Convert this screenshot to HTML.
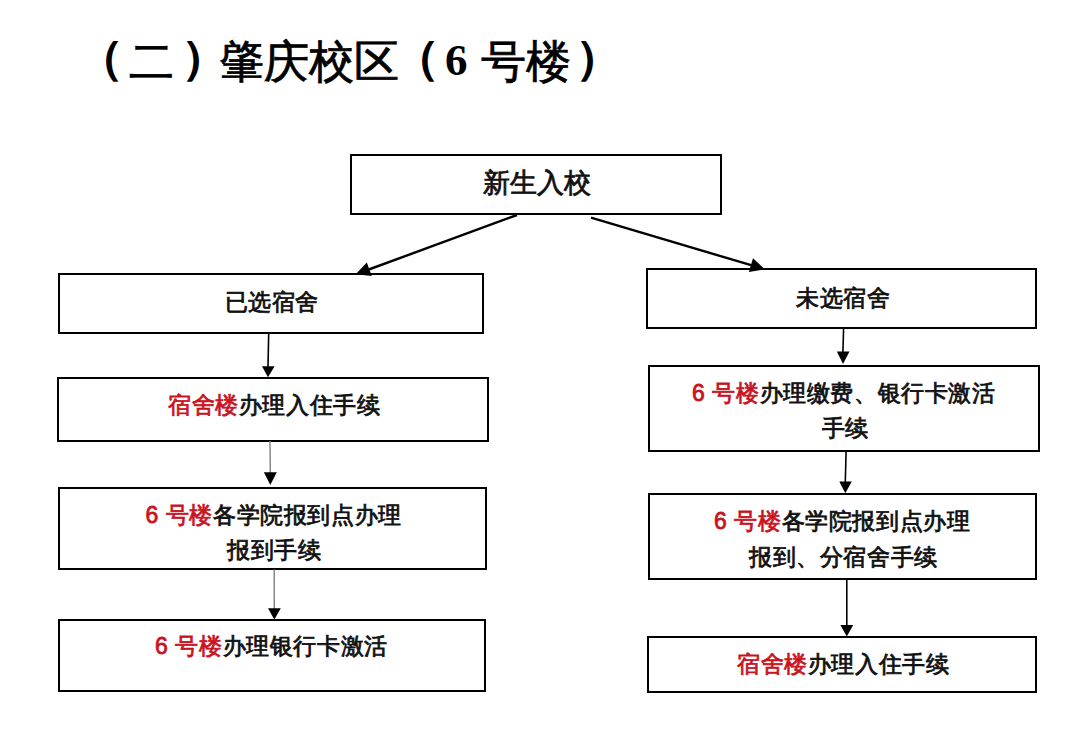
<!DOCTYPE html>
<html><head><meta charset="utf-8">
<style>
html,body{margin:0;padding:0;background:#fff;}
body{width:1080px;height:742px;position:relative;overflow:hidden;font-family:"Liberation Sans",sans-serif;}
svg{position:absolute;left:0;top:0;}
.t{position:absolute;white-space:nowrap;color:#111;font-weight:normal;-webkit-text-stroke-width:0.8px;line-height:1;}
.r{color:#c9141f;}
.title{position:absolute;left:84px;top:40px;font-family:"Liberation Serif",serif;font-size:45px;font-weight:normal;-webkit-text-stroke-width:0.8px;letter-spacing:0px;white-space:nowrap;line-height:1;color:#000;}
</style></head><body>
<div class="title"><span style="position:relative;left:-6.5px;top:-4px;-webkit-text-stroke-width:2.2px">（</span>二<span style="position:relative;left:7.5px;top:-4px;-webkit-text-stroke-width:2.2px">）</span>肇庆校区<span style="position:relative;left:-5.5px;top:-4px;-webkit-text-stroke-width:2.2px">（</span><span style="position:relative;left:1px;top:-2px;font-weight:bold;-webkit-text-stroke-width:0">6</span> <span style="position:relative;left:3px">号楼</span><span style="position:relative;left:8.5px;top:-4px;-webkit-text-stroke-width:2.2px">）</span></div>
<svg width="1080" height="742" viewBox="0 0 1080 742">
<g fill="none" stroke="#000" stroke-width="2">
<rect x="351" y="155" width="370" height="59"/>
<rect x="59" y="274" width="424" height="59"/>
<rect x="58" y="378" width="430" height="63"/>
<rect x="59" y="488" width="427" height="81"/>
<rect x="59" y="620" width="426" height="71"/>
<rect x="647" y="269" width="389" height="59"/>
<rect x="649" y="366" width="390" height="85"/>
<rect x="649" y="494" width="387" height="85"/>
<rect x="648" y="637" width="388" height="55"/>
</g>
<g stroke="#000" stroke-width="2.4" fill="none" stroke-linecap="butt">
<line x1="517" y1="215" x2="367.4" y2="270.0"/>
<line x1="591" y1="217.6" x2="752.8" y2="265.7"/>
</g>
<g stroke="#000" stroke-width="1.6" fill="none">
<line x1="268.7" y1="333" x2="268" y2="367"/>
<line x1="843.6" y1="328" x2="842.9" y2="352"/>
<line x1="846.1" y1="451" x2="845.3" y2="482"/>
<line x1="846.8" y1="580" x2="846.8" y2="626"/>
</g>
<g stroke="#808080" stroke-width="1.4" fill="none">
<line x1="270" y1="441" x2="270.3" y2="473"/>
<line x1="274.2" y1="569.5" x2="274.3" y2="609"/>
</g>
<g fill="#000">
<polygon points="355.7,274.3 366.8,262.5 371.8,276.1"/>
<polygon points="764.8,269.3 748.8,272.1 753.0,258.3"/>
<polygon points="262,366.2 274.6,366.2 268,377.3"/>
<polygon points="836.9,351.5 849.5,351.5 843,364"/>
<polygon points="839.3,481.5 851.8,481.5 845.3,493.3"/>
<polygon points="840.3,625 853.2,625 846.8,636.5"/>
<polygon points="263.9,472.3 276.8,472.3 270.3,485"/>
<polygon points="268,608.3 280.8,608.3 274.3,619.5"/>
</g>
</svg>
<div class="t" style="left:483px;top:169.5px;font-size:27px;">新生入校</div>
<div class="t" style="left:224.5px;top:290.5px;font-size:23px;letter-spacing:0.6px;">已选宿舍</div>
<div class="t" style="left:796px;top:286.5px;font-size:23px;letter-spacing:0.6px;">未选宿舍</div>
<div class="t" style="left:168px;top:394px;font-size:23px;letter-spacing:0.6px;"><span class="r">宿舍楼</span>办理入住手续</div>
<div class="t" style="left:145.5px;top:504px;font-size:23px;letter-spacing:0.6px;"><span class="r">6 号楼</span>各学院报到点办理</div>
<div class="t" style="left:227px;top:538.5px;font-size:23px;letter-spacing:0.6px;">报到手续</div>
<div class="t" style="left:155px;top:635px;font-size:23px;letter-spacing:0.6px;"><span class="r">6 号楼</span>办理银行卡激活</div>
<div class="t" style="left:692px;top:381.5px;font-size:23px;letter-spacing:0.6px;"><span class="r">6 号楼</span>办理缴费、银行卡激活</div>
<div class="t" style="left:821.5px;top:416.5px;font-size:23px;letter-spacing:0.6px;">手续</div>
<div class="t" style="left:714px;top:510px;font-size:23px;letter-spacing:0.6px;"><span class="r">6 号楼</span>各学院报到点办理</div>
<div class="t" style="left:749px;top:545.5px;font-size:23px;letter-spacing:0.6px;">报到、分宿舍手续</div>
<div class="t" style="left:737px;top:653px;font-size:23px;letter-spacing:0.6px;"><span class="r">宿舍楼</span>办理入住手续</div>
</body></html>
